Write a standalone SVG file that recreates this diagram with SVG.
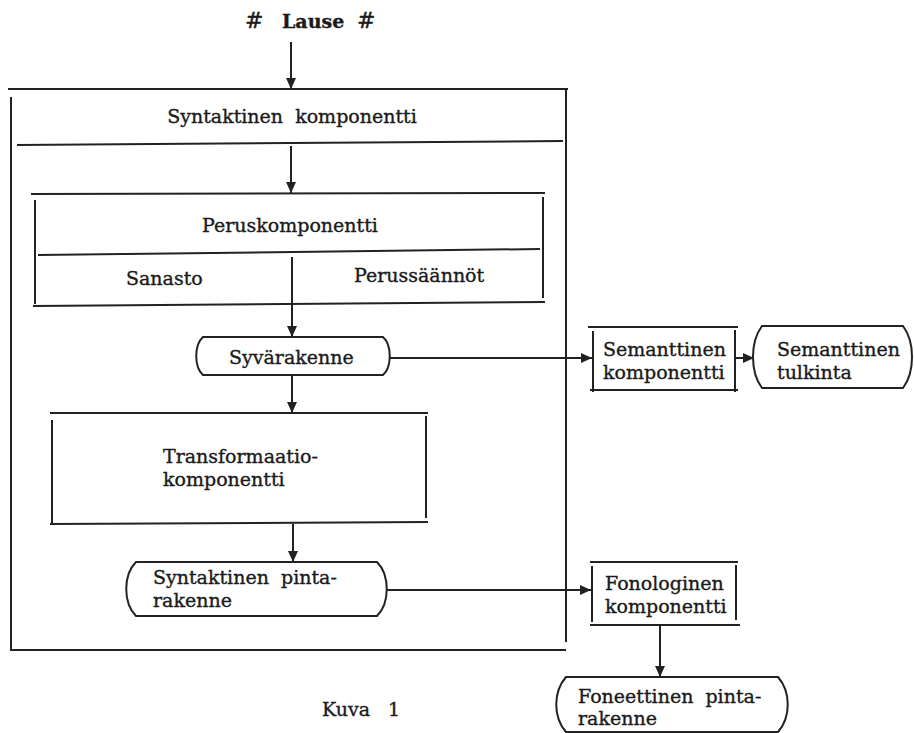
<svg xmlns="http://www.w3.org/2000/svg" width="914" height="733" viewBox="0 0 914 733">
<defs>
<marker id="ah" markerUnits="userSpaceOnUse" markerWidth="12" markerHeight="12" viewBox="0 0 12 12" refX="11" refY="6" orient="auto">
<path d="M0,1 L11,6 L0,11 Z" fill="#222"/>
</marker>
<style>
.ln{stroke:#222;stroke-width:2;fill:none;stroke-linecap:butt}
.sh{stroke:#222;stroke-width:2;fill:#fff}
.t{font-family:"DejaVu Serif","Liberation Serif",serif;font-size:19px;fill:#1a1a1a;stroke:#1a1a1a;stroke-width:0.35;white-space:pre}
.c{text-anchor:middle}
.b{font-weight:bold}
.h{font-size:22px;font-style:italic}
.cn{stroke:#222;stroke-width:2;fill:none;marker-end:url(#ah)}
</style>
</defs>
<rect width="914" height="733" fill="#fff"/>

<g id="lause">
<text class="t h" x="245" y="28">#</text>
<text class="t b" x="282" y="28">Lause</text>
<text class="t h" x="357" y="28">#</text>
</g>

<g id="syntaktinen-komponentti">
<line class="ln" x1="8" y1="89" x2="568" y2="89"/>
<line class="ln" x1="11" y1="97" x2="11" y2="650"/>
<line class="ln" x1="566" y1="89" x2="566" y2="642"/>
<line class="ln" x1="10" y1="650" x2="566" y2="650"/>
<line class="ln" x1="17" y1="145" x2="563" y2="141"/>
<text class="t c" x="292" y="123">Syntaktinen  komponentti</text>
</g>

<g id="peruskomponentti">
<line class="ln" x1="31" y1="194" x2="545" y2="193"/>
<line class="ln" x1="35" y1="200" x2="35" y2="304"/>
<line class="ln" x1="543" y1="197" x2="543" y2="298"/>
<line class="ln" x1="38" y1="255" x2="540" y2="249"/>
<line class="ln" x1="33" y1="306" x2="545" y2="302"/>
<text class="t c" x="290" y="232">Peruskomponentti</text>
<text class="t" x="126" y="285">Sanasto</text>
<text class="t" x="354" y="282">Perussäännöt</text>
</g>

<g id="syvarakenne">
<path class="sh" d="M203 337 H383 C392 345 392 367 383 375 H203 C194 367 194 345 203 337 Z"/>
<text class="t" x="229" y="364">Syvärakenne</text>
</g>

<g id="semanttinen-komponentti">
<line class="ln" x1="588" y1="327" x2="738" y2="327"/>
<line class="ln" x1="593" y1="331" x2="593" y2="392"/>
<line class="ln" x1="735" y1="330" x2="735" y2="392"/>
<line class="ln" x1="590" y1="390" x2="738" y2="390"/>
<text class="t" x="603" y="356">Semanttinen</text>
<text class="t" x="603" y="379">komponentti</text>
</g>

<g id="semanttinen-tulkinta">
<path class="sh" d="M762 326 H903 C915 342 915 372 903 388 H762 C750 372 750 342 762 326 Z"/>
<text class="t" x="777" y="356">Semanttinen</text>
<text class="t" x="777" y="379">tulkinta</text>
</g>

<g id="transformaatiokomponentti">
<line class="ln" x1="50" y1="413" x2="428" y2="413"/>
<line class="ln" x1="52" y1="420" x2="52" y2="523"/>
<line class="ln" x1="426" y1="416" x2="426" y2="518"/>
<line class="ln" x1="50" y1="524" x2="428" y2="522"/>
<text class="t" x="163" y="463">Transformaatio-</text>
<text class="t" x="163" y="486">komponentti</text>
</g>

<g id="syntaktinen-pintarakenne">
<path class="sh" d="M136 562 H377 C390 575 390 603 377 616 H136 C123 603 123 575 136 562 Z"/>
<text class="t" x="153" y="584">Syntaktinen  pinta-</text>
<text class="t" x="153" y="607">rakenne</text>
</g>

<g id="fonologinen-komponentti">
<line class="ln" x1="590" y1="562" x2="738" y2="562"/>
<line class="ln" x1="592" y1="566" x2="592" y2="622"/>
<line class="ln" x1="736" y1="565" x2="736" y2="620"/>
<line class="ln" x1="590" y1="625" x2="740" y2="625"/>
<text class="t" x="605" y="590">Fonologinen</text>
<text class="t" x="605" y="613">komponentti</text>
</g>

<g id="foneettinen-pintarakenne">
<path class="sh" d="M566 677 H778 C791 692 791 717 778 732 H566 C553 717 553 692 566 677 Z"/>
<text class="t" x="578" y="703">Foneettinen  pinta-</text>
<text class="t" x="578" y="725">rakenne</text>
</g>

<g id="caption">
<text class="t" x="322" y="716">Kuva</text>
<text class="t" x="388" y="716">1</text>
</g>

<g id="connectors">
<path class="cn" d="M291 42 V89"/>
<path class="cn" d="M291 146 V193"/>
<path class="cn" d="M292 257 V337"/>
<path class="cn" d="M390 358 H592"/>
<path class="cn" d="M735 358 H754"/>
<path class="cn" d="M292 375 V413"/>
<path class="cn" d="M293 524 V562"/>
<path class="cn" d="M387 590 H591"/>
<path class="cn" d="M660 625 V677"/>
</g>
</svg>
